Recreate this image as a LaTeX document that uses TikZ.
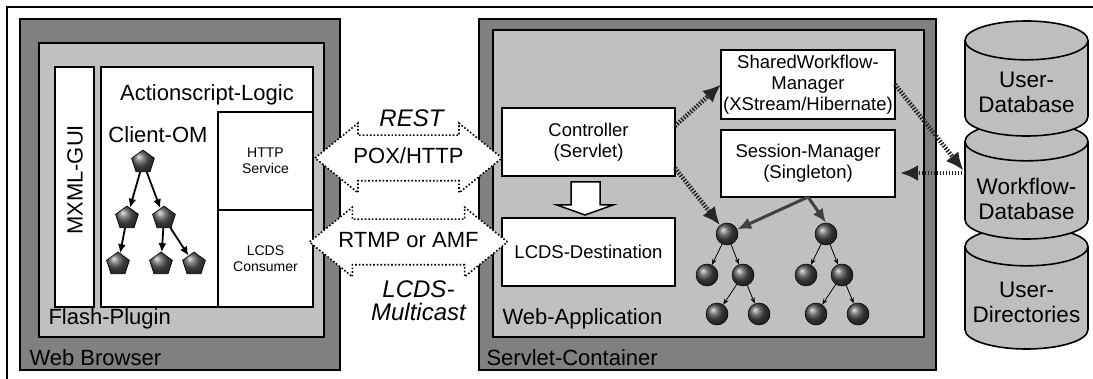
\documentclass[tikz,border=0pt]{standalone}
\usepackage{fontspec}
\setmainfont{Liberation Sans}
\usetikzlibrary{arrows.meta, positioning, shapes.geometric, shapes.arrows}

\definecolor{darkbox}{RGB}{128,128,128}
\definecolor{lightbox}{RGB}{192,192,192}
\definecolor{cylgray}{RGB}{190,190,190}

\begin{document}
\begin{tikzpicture}[
  x=1pt, y=-1pt,
  box/.style={
    draw,
    line width=1.8pt,
    inner sep=0pt,
    outer sep=0pt,
    align=center
  },
  big/.style={font=\fontsize{22}{26}\selectfont},
  mid/.style={font=\fontsize{18.5}{21}\selectfont},
  small/.style={font=\fontsize{14}{16}\selectfont},
  ital/.style={font=\fontsize{24}{23}\selectfont\itshape, align=center},
  dblarr/.style={
    double arrow,
    draw,
    dotted,
    line width=1.6pt,
    fill=white,
    minimum height=187pt,
    minimum width=68pt,
    double arrow head extend=12pt,
    double arrow tip angle=78,
    text height=15pt,
    text depth=4pt,
    inner xsep=0pt,
    inner ysep=12.5pt,
    big
  },
  cyl/.style={
    cylinder,
    shape border rotate=90,
    draw,
    line width=1.6pt,
    fill=cylgray,
    aspect=0.34,
    minimum width=123pt,
    anchor=shape center,
    font=\fontsize{22.5}{25}\selectfont
  },
  dblbl/.style={align=center, font=\fontsize{22.5}{25}\selectfont},
  pent/.style={
    regular polygon,
    regular polygon sides=5,
    minimum size=24pt,
    inner sep=0pt,
    draw,
    line width=0.6pt,
    shading=ball,
    ball color=gray!70!black
  },
  ball/.style={
    circle,
    minimum size=22pt,
    inner sep=0pt,
    draw,
    line width=0.5pt,
    shading=ball,
    ball color=gray!60!black
  },
  pentarr/.style={-{Latex[length=9pt, width=8pt]}, line width=1.8pt},
  ballarr/.style={-{Stealth[length=6pt, width=4.5pt]}, line width=0.8pt},
  dotarr/.style={
    -{Latex[length=18pt, width=16pt]},
    line width=4.5pt,
    dash pattern=on 1.5pt off 1.5pt,
    black!85
  },
  grayarr/.style={-{Latex[length=14pt, width=12pt]}, line width=3pt, black!75}
]

\useasboundingbox (0,0) rectangle (1093,379);

% Frame
\draw[line width=2pt] (7,379) -- (7,7) -- (1093,7);

% Client side
\node[box, fill=darkbox, minimum width=320pt, minimum height=351pt] (browser) at (180,194.5) {};
\node[box, fill=lightbox, minimum width=285pt, minimum height=294pt] (flash) at (181.5,190) {};
\node[box, fill=white, minimum width=39pt, minimum height=240pt] (mxml) at (74.5,187) {};
\node[big, rotate=90] at (75,180) {MXML-GUI};
\node[box, fill=white, minimum width=212pt, minimum height=240pt] (aslogic) at (207,187) {};
\node[box, fill=white, minimum width=95pt, minimum height=98pt, small] (http) at (265.5,161) {HTTP\\Service};
\node[box, fill=white, minimum width=95pt, minimum height=97pt, small] (lcdscons) at (265.5,258.5) {LCDS\\Consumer};

\node[big] at ([yshift=-28pt]aslogic.north) {Actionscript-Logic};
\node[big] at (158,135) {Client-OM};
\node[big, anchor=south west] at ([xshift=6pt, yshift=4pt]flash.south west) {Flash-Plugin};
\node[big, anchor=south west] at ([xshift=6pt, yshift=1pt]browser.south west) {Web Browser};

% Client object model
\node[pent] (p1) at (143,162) {};
\node[pent] (p2) at (127,218) {};
\node[pent] (p3) at (164,218) {};
\node[pent] (p4) at (118,264) {};
\node[pent] (p5) at (161,264) {};
\node[pent] (p6) at (194,264) {};
\draw[pentarr] (p1) -- (p2);
\draw[pentarr] (p1) -- (p3);
\draw[pentarr] (p2) -- (p4);
\draw[pentarr] (p3) -- (p5);
\draw[pentarr] (p3) -- (p6);

% Server side
\node[box, fill=darkbox, minimum width=457pt, minimum height=351pt] (container) at (707.5,194.5) {};
\node[box, fill=lightbox, minimum width=431pt, minimum height=307pt] (webapp) at (708.5,183.5) {};
\node[big, anchor=south west] at ([xshift=6pt, yshift=4pt]webapp.south west) {Web-Application};
\node[big, anchor=south west] at ([xshift=4pt, yshift=1pt]container.south west) {Servlet-Container};

\node[box, fill=white, minimum width=173pt, minimum height=68pt, mid] (ctrl) at (588.5,142) {Controller\\(Servlet)};
\node[box, fill=white, minimum width=173pt, minimum height=68pt, mid] (lcdsdest) at (588.5,252) {LCDS-Destination};
\node[box, fill=white, minimum width=174pt, minimum height=69pt, mid] (swm) at (808,84.5) {SharedWorkflow-\\Manager\\(XStream/Hibernate)};
\node[box, fill=white, minimum width=174pt, minimum height=67pt, mid] (sessmgr) at (808,163.5) {Session-Manager\\(Singleton)};

\draw[line width=1.5pt, fill=white] (571,182) -- (600,182) -- (600,205) -- (613,205)
  -- (585,215) -- (557,205) -- (571,205) -- cycle;

% Workflow object trees
\node[ball] (r1) at (727,234) {};
\node[ball] (a1) at (707,275) {};
\node[ball] (b1) at (743,275) {};
\node[ball] (c1) at (717,314) {};
\node[ball] (d1) at (759,314) {};
\node[ball] (r2) at (826,234) {};
\node[ball] (a2) at (806,275) {};
\node[ball] (b2) at (842,275) {};
\node[ball] (c2) at (816,314) {};
\node[ball] (d2) at (858,314) {};
\draw[ballarr] (r1) -- (a1);
\draw[ballarr] (r1) -- (b1);
\draw[ballarr] (b1) -- (c1);
\draw[ballarr] (b1) -- (d1);
\draw[ballarr] (r2) -- (a2);
\draw[ballarr] (r2) -- (b2);
\draw[ballarr] (b2) -- (c2);
\draw[ballarr] (b2) -- (d2);

% Protocols
\node[dblarr] (pox) at (408.5,158) {POX/HTTP};
\node[dblarr] (rtmp) at (408.5,242) {RTMP or AMF};
\node[ital] at ([yshift=40pt, xshift=3pt]pox.center) {REST};
\node[ital] at ([yshift=-59pt, xshift=10pt]rtmp.center) {LCDS-\\Multicast};

% Databases
\node[cyl, minimum height=122pt] (udir) at (1026.5,288) {\phantom{Directories}};
\node[cyl, minimum height=117pt] (wfdb) at (1026.5,180.5) {\phantom{Directories}};
\node[cyl, minimum height=115pt] (udb) at (1026.5,78.5) {\phantom{Directories}};
\node[dblbl] at ([yshift=-14pt]udb.shape center) {User-\\Database};
\node[dblbl] at ([yshift=-18pt]wfdb.shape center) {Workflow-\\Database};
\node[dblbl] at ([yshift=-14pt]udir.shape center) {User-\\Directories};
\coordinate (wfin) at ([xshift=-63pt, yshift=10pt]wfdb.shape center);
\coordinate (wfout) at ([xshift=-61.5pt, yshift=7.5pt]wfdb.shape center);

% Connections
\draw[dotarr] ([yshift=16pt]ctrl.east) -- (swm.west);
\draw[dotarr] ([yshift=-26pt]ctrl.east) -- (r1);
\draw[dotarr] (swm.east) -- (wfin);
\draw[dotarr, shorten >=5pt] (wfout) -- (wfout -| sessmgr.east);
\draw[grayarr] (sessmgr.south) -- (r1);
\draw[grayarr] (sessmgr.south) -- (r2.north);

\end{tikzpicture}
\end{document}
